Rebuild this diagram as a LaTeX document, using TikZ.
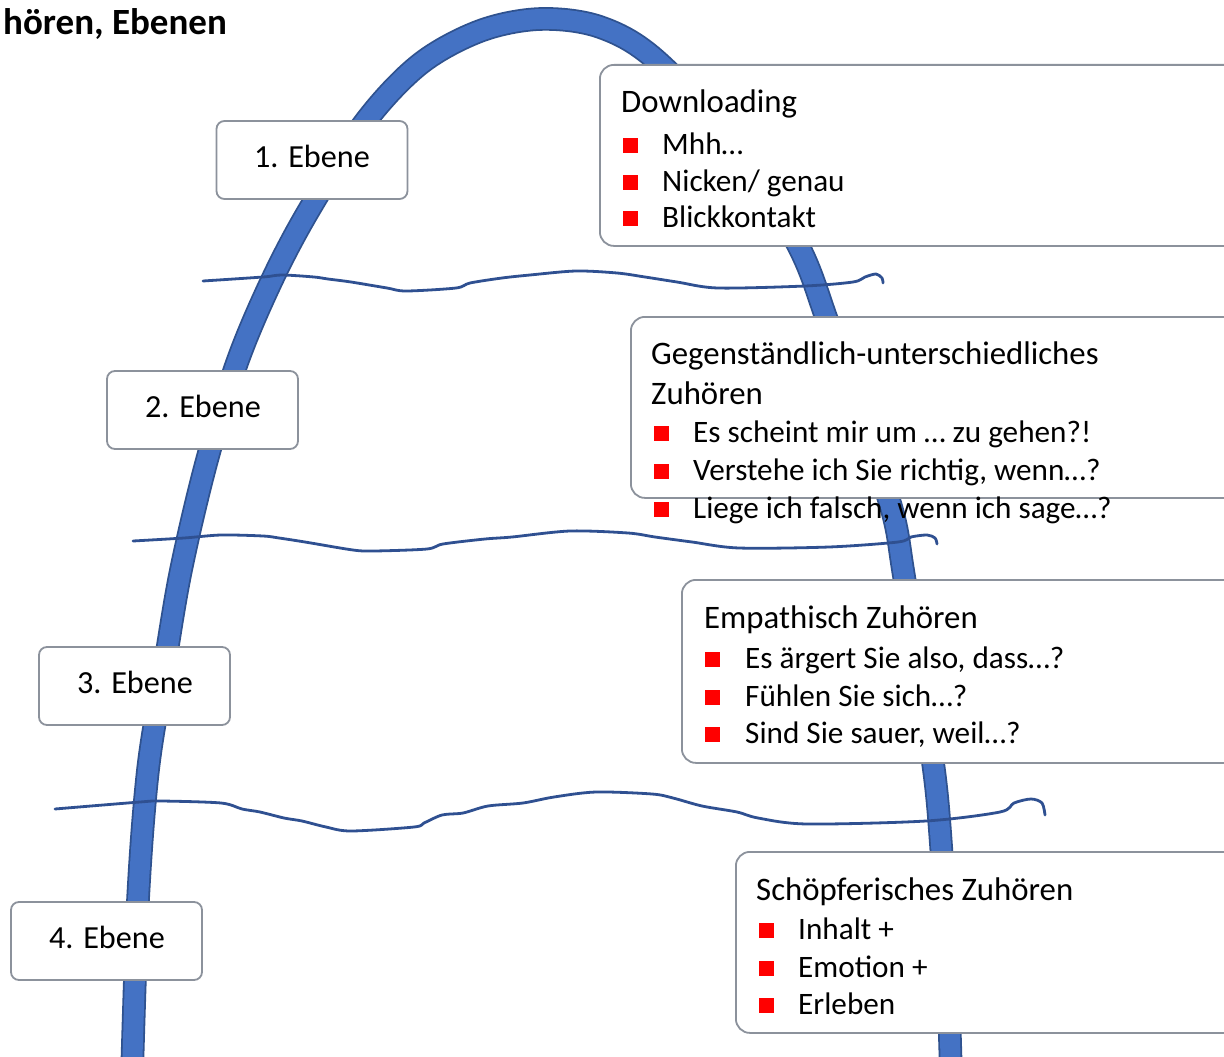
\documentclass[tikz,border=0pt]{standalone}
\usepackage{fontspec}
\setmainfont{Carlito}
\definecolor{arcfill}{RGB}{68,114,196}
\definecolor{arcedge}{RGB}{47,82,143}
\definecolor{waveblue}{RGB}{47,80,145}
\definecolor{boxgray}{RGB}{140,146,156}
\definecolor{bulletred}{RGB}{255,0,0}
\begin{document}
\begin{tikzpicture}[x=1pt,y=-1pt,
  levelbox/.style={draw=boxgray, line width=1.8pt, fill=white, rounded corners=8pt,
    minimum width=191pt, minimum height=78pt, inner sep=0pt},
  levellabel/.style={anchor=base, inner sep=0pt, font=\fontsize{32.2}{38}\selectfont},
  infobox/.style={draw=boxgray, line width=1.8pt, fill=white, rounded corners=14pt,
    anchor=north west, inner sep=0pt, minimum height=181pt},
  headline/.style={anchor=base west, inner sep=0pt, font=\fontsize{32.8}{39}\selectfont},
  itemline/.style={anchor=base west, inner sep=0pt, font=\fontsize{31.2}{37}\selectfont},
  sqbullet/.style={fill=bulletred, draw=none, minimum size=15pt, inner sep=0pt},
  wave/.style={draw=waveblue, line width=2.8pt, line cap=round, line join=round}]

\useasboundingbox (0,0) rectangle (1224,1057);
\clip (0,0) rectangle (1224,1057);
\fill[white] (0,0) rectangle (1224,1057);

% the big arch
\draw[line width=1.8pt, draw=arcedge, double=arcfill, double distance=20pt]
  plot[smooth, tension=0.55] coordinates {
    (132,1075) (138,900) (148,770) (164,670) (181,570) (207,460) (238,360)
    (272,280) (309,210) (365,122) (420,64) (480,31) (540,19) (600,27)
    (656,60) (740,150) (799,247) (827,320) (860,415) (892,510) (903,570)
    (918,670) (934,770) (941,845) (947,950) (951,1075)};

% hand-drawn separators
\draw[wave] plot[smooth, tension=0.5] coordinates {
  (203,281) (263,277) (282,275) (314,277) (328,279) (351,282) (387,288)
  (406,291) (456,288) (470,283) (502,278) (530,275) (576,271) (617,273)
  (645,277) (677,282) (718,288) (805,286) (853,282) (865,277) (876,274)
  (882,278) (883,283)};
\draw[wave] plot[smooth, tension=0.5] coordinates {
  (133,541) (184,538) (221,535) (263,536) (279,538) (305,542) (353,550)
  (374,551) (427,549) (443,544) (485,539) (512,537) (570,531) (628,533)
  (655,537) (692,542) (739,548) (829,547) (898,542) (911,537) (927,535)
  (935,538) (937,544)};
\draw[wave] plot[smooth, tension=0.5] coordinates {
  (55,809) (140,802) (161,801) (221,803) (242,809) (260,812) (284,818)
  (302,821) (326,827) (351,831) (414,827) (424,823) (442,815) (463,813)
  (488,806) (523,803) (554,797) (596,792) (652,794) (673,798) (702,806)
  (737,812) (758,818) (807,824) (926,821) (1000,812) (1014,803) (1031,799)
  (1042,803) (1045,815)};

% title
\node[anchor=base west, inner sep=0pt, font=\fontsize{37}{44}\selectfont\bfseries]
  (title) at (3,35) {hören, Ebenen};

% level boxes
\node[levelbox] (lv1) at (312,160) {};
\node[levelbox] (lv2) at (202.5,410) {};
\node[levelbox] (lv3) at (134.5,686) {};
\node[levelbox] (lv4) at (106.5,941) {};
\node[levellabel] (lv1t) at (312,167) {1. Ebene};
\node[levellabel] (lv2t) at (203,417) {2. Ebene};
\node[levellabel] (lv3t) at (135,693) {3. Ebene};
\node[levellabel] (lv4t) at (107,948) {4. Ebene};

% description boxes
\node[infobox, minimum width=660pt] (boxA) at (599,64) {};
\node[infobox, minimum width=630pt] (boxB) at (630,316) {};
\node[infobox, minimum width=580pt, minimum height=183pt] (boxC) at (681,579) {};
\node[infobox, minimum width=525pt] (boxD) at (735,851) {};

% Downloading
\node[headline] (hA) at (621,113) {Downloading};
\node[sqbullet] (bA1) at (630,145) {};
\node[sqbullet] (bA2) at (630,182) {};
\node[sqbullet] (bA3) at (630,218) {};
\node[itemline] (tA1) at (662,154) {Mhh…};
\node[itemline] (tA2) at (662,191) {Nicken/ genau};
\node[itemline] (tA3) at (662,227) {Blickkontakt};

% Gegenständlich-unterschiedliches Zuhören
\node[headline] (hB1) at (651,364) {Gegenständlich-unterschiedliches};
\node[headline] (hB2) at (651,404) {Zuhören};
\node[sqbullet] (bB1) at (661,433) {};
\node[sqbullet] (bB2) at (661,471) {};
\node[sqbullet] (bB3) at (661,509) {};
\node[itemline] (tB1) at (693,442) {Es scheint mir um … zu gehen?!};
\node[itemline] (tB2) at (693,480) {Verstehe ich Sie richtig, wenn…?};
\node[itemline] (tB3) at (693,518) {Liege ich falsch, wenn ich sage…?};

% Empathisch Zuhören
\node[headline] (hC) at (704,628) {Empathisch Zuhören};
\node[sqbullet] (bC1) at (712.5,659) {};
\node[sqbullet] (bC2) at (712.5,697) {};
\node[sqbullet] (bC3) at (712.5,734) {};
\node[itemline] (tC1) at (745,668) {Es ärgert Sie also, dass…?};
\node[itemline] (tC2) at (745,706) {Fühlen Sie sich…?};
\node[itemline] (tC3) at (745,743) {Sind Sie sauer, weil…?};

% Schöpferisches Zuhören
\node[headline] (hD) at (756,900) {Schöpferisches Zuhören};
\node[sqbullet] (bD1) at (766,930) {};
\node[sqbullet] (bD2) at (766,968) {};
\node[sqbullet] (bD3) at (766,1005) {};
\node[itemline] (tD1) at (798,939) {Inhalt +};
\node[itemline] (tD2) at (798,977) {Emotion +};
\node[itemline] (tD3) at (798,1014) {Erleben};

\end{tikzpicture}
\end{document}
